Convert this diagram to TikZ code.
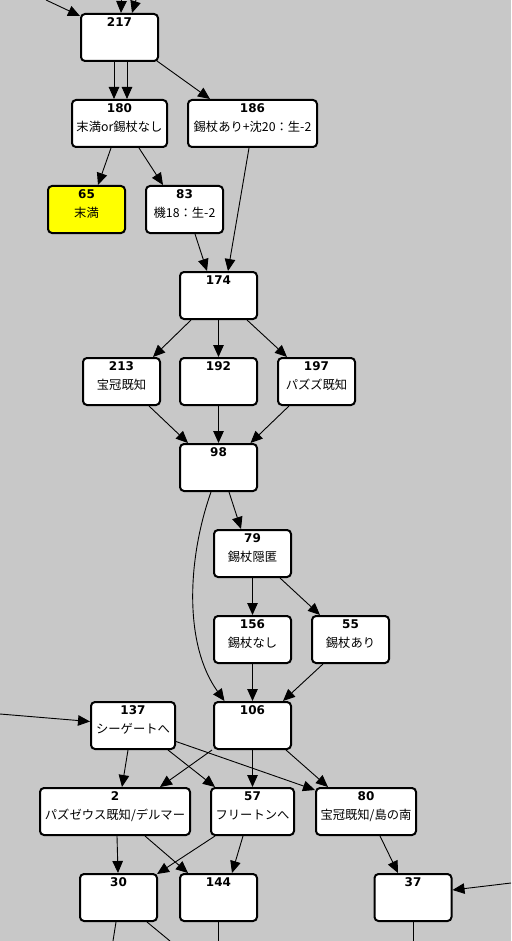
\documentclass[tikz,border=0pt]{standalone}
\usepackage{fontspec}
\newfontfamily\jpfont{Noto Sans CJK JP}
\newfontfamily\numfont{DejaVu Sans}
\usetikzlibrary{arrows.meta}
\definecolor{bgcol}{HTML}{C8C8C8}
\definecolor{hilite}{HTML}{FFFF00}
\newcommand\gbox[6][white]{%
  \node[box, fill=#1, minimum width=#5] (#2) at (#3) {};
  \node[num] (#2num) at ([yshift=-9.5pt]#2.north) {#4};
  \node[txt] (#2txt) at ([yshift=-28pt]#2.north) {#6};}
\begin{document}
\begin{tikzpicture}[x=1pt,y=-1pt,
  box/.style={draw=black, line width=2pt, rounded corners=4pt, minimum height=47pt, inner sep=0pt},
  num/.style={font=\numfont\bfseries\fontsize{12}{13}\selectfont, inner sep=0pt},
  txt/.style={font=\jpfont\fontsize{12.3}{13}\selectfont, inner sep=0pt},
  edge/.style={draw=black, line width=0.9pt, -{Triangle[length=12pt,width=10.5pt]}},
  plain/.style={draw=black, line width=0.9pt},
]
\fill[bgcol] (0,0) rectangle (511,941);
\useasboundingbox (0,0) rectangle (511,941);

\gbox{n217}{119.5,37.5}{217}{77pt}{}
\gbox{n180}{119.5,123.5}{180}{95pt}{末満or錫杖なし}
\gbox{n186}{252.5,123.5}{186}{129pt}{錫杖あり+沈20：生-2}
\gbox[hilite]{n65}{86.5,209.5}{65}{77pt}{末満}
\gbox{n83}{184.5,209.5}{83}{77pt}{機18：生-2}
\gbox{n174}{218.5,295.5}{174}{77pt}{}
\gbox{n213}{121.5,381.5}{213}{77pt}{宝冠既知}
\gbox{n192}{218.5,381.5}{192}{77pt}{}
\gbox{n197}{316.5,381.5}{197}{77pt}{パズズ既知}
\gbox{n98}{218.5,467.5}{98}{77pt}{}
\gbox{n79}{252.5,553.5}{79}{77pt}{錫杖隠匿}
\gbox{n156}{252.5,639.5}{156}{77pt}{錫杖なし}
\gbox{n55}{350.5,639.5}{55}{77pt}{錫杖あり}
\gbox{n137}{133,725.5}{137}{84pt}{シーゲートへ}
\gbox{n106}{252.5,725.5}{106}{77pt}{}
\gbox{n2}{115,811.5}{2}{150pt}{パズゼウス既知/デルマー}
\gbox{n57}{252.5,811.5}{57}{83pt}{フリートンへ}
\gbox{n80}{366,811.5}{80}{100pt}{宝冠既知/島の南}
\gbox{n30}{118.5,897.5}{30}{77pt}{}
\gbox{n144}{218.5,897.5}{144}{77pt}{}
\gbox{n37}{413,897.5}{37}{77pt}{}

% free ends
\coordinate (i1) at (46,0);
\coordinate (i2) at (121.5,0);
\coordinate (i3) at (136,0);
\coordinate (i4) at (0,714);
\coordinate (i5) at (511,883);
\coordinate (o1) at (113,941);
\coordinate (o2) at (170,941);
\coordinate (o3) at (218.5,941);
\coordinate (o4) at (413,941);

\draw[edge] (i1) -- ([yshift=-3pt]n217.north west);
\draw[edge] (i2) -- ([xshift=1.5pt]n217.north);
\draw[edge] (i3) -- ([xshift=12.5pt]n217.north);
\draw[edge] ([xshift=-5.5pt]n217.south) -- ([xshift=-5.5pt]n180.north);
\draw[edge] ([xshift=7.5pt]n217.south) -- ([xshift=7.5pt]n180.north);
\draw[edge] ([xshift=-2pt,yshift=1pt]n217.south east) -- ([xshift=-42.5pt]n186.north);
\draw[edge] ([xshift=-8.5pt]n180.south) -- ([xshift=11.5pt]n65.north);
\draw[edge] ([xshift=19.5pt]n180.south) -- ([xshift=-21.5pt]n83.north);
\draw[edge] ([xshift=-3.5pt]n186.south) -- ([xshift=9.5pt]n174.north);
\draw[edge] ([xshift=10.5pt]n83.south) -- ([xshift=-11.5pt]n174.north);
\draw[edge] ([xshift=-27.5pt]n174.south) -- ([xshift=31.5pt]n213.north);
\draw[edge] (n174.south) -- (n192.north);
\draw[edge] ([xshift=28.5pt]n174.south) -- ([xshift=-29.5pt]n197.north);
\draw[edge] ([xshift=27.5pt]n213.south) -- ([xshift=-30.5pt]n98.north);
\draw[edge] (n192.south) -- (n98.north);
\draw[edge] ([xshift=-27.5pt]n197.south) -- ([xshift=32pt]n98.north);
\draw[edge] ([xshift=10.5pt]n98.south) -- ([xshift=-11.5pt]n79.north);
\draw[edge] ([xshift=-7.5pt]n98.south) .. controls (187,560) and (184,645) .. ([xshift=-28pt]n106.north);
\draw[edge] (n79.south) -- (n156.north);
\draw[edge] ([xshift=27.5pt]n79.south) -- ([xshift=-30.5pt]n55.north);
\draw[edge] (n156.south) -- (n106.north);
\draw[edge] ([xshift=-27.5pt]n55.south) -- ([xshift=30.5pt]n106.north);
\draw[edge] (i4) -- ([yshift=4pt]n137.west);
\draw[edge] ([xshift=-5pt]n137.south) -- ([xshift=7pt]n2.north);
\draw[edge] ([xshift=35pt]n137.south) -- ([xshift=-37.5pt]n57.north);
\draw[edge] ([yshift=-16pt]n137.east) -- ([yshift=-3pt]n80.north west);
\draw[edge] ([xshift=-1pt]n106.south west) -- ([xshift=45pt]n2.north);
\draw[edge] (n106.south) -- (n57.north);
\draw[edge] ([xshift=33.5pt]n106.south) -- ([xshift=-38pt]n80.north);
\draw[edge] ([xshift=2pt]n2.south) -- ([xshift=-0.5pt]n30.north);
\draw[edge] ([xshift=30pt]n2.south) -- ([xshift=-30.5pt]n144.north);
\draw[edge] ([xshift=-37.5pt]n57.south) -- ([xshift=-1pt,yshift=-1pt]n30.north east);
\draw[edge] ([xshift=-9.5pt]n57.south) -- ([xshift=13.5pt]n144.north);
\draw[edge] ([xshift=14pt]n80.south) -- ([xshift=-15pt]n37.north);
\draw[edge] (i5) -- ([yshift=7.5pt]n37.east);
\draw[plain] ([xshift=-2.5pt]n30.south) -- (o1);
\draw[plain] ([xshift=28.5pt]n30.south) -- (o2);
\draw[plain] (n144.south) -- (o3);
\draw[plain] (n37.south) -- (o4);
\end{tikzpicture}
\end{document}
